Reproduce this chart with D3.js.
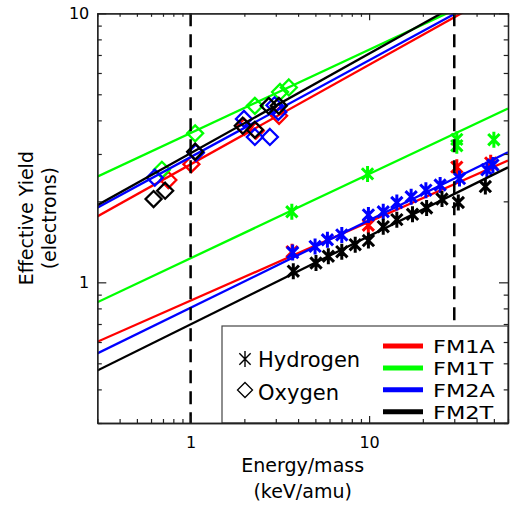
<!DOCTYPE html>
<html>
<head>
<meta charset="utf-8">
<script src="https://cdn.jsdelivr.net/npm/d3@7"></script>
<style>
  html, body { margin: 0; padding: 0; background: #fff; }
  svg { display: block; font-family: "DejaVu Sans", sans-serif; }
</style>
</head>
<body>
<svg id="chart"></svg>
<script>
// sensors (legend order)
const sensors = ["FM1A", "FM1T", "FM2A", "FM2T"];

// oxygen measurements [energy/mass keV/amu, effective yield]
const oxygenFM1A = [[0.75, 2.40], [1.01, 2.75], [2.0, 3.78], [2.32, 3.66], [3.13, 4.16]];
const oxygenFM1T = [[0.69, 2.62], [1.06, 3.58], [2.29, 4.53], [3.17, 5.10], [3.55, 5.30]];
const oxygenFM2A = [[0.63, 2.45], [1.07, 3.03], [1.99, 4.05], [2.29, 3.47], [2.78, 3.47], [2.95, 4.55], [3.1, 4.3]];
const oxygenFM2T = [[0.62, 2.04], [0.72, 2.19], [1.06, 3.06], [1.96, 3.82], [2.29, 3.69], [2.74, 4.53], [3.12, 4.53]];

// hydrogen measurements
const hydrogenFM1A = [[3.7, 1.30], [9.9, 1.63], [31, 2.68], [48, 2.78]];
const hydrogenFM1T = [[3.69, 1.83], [9.8, 2.53], [31, 3.22], [31, 3.40], [50, 3.39]];
const hydrogenFM2A = [[3.73, 1.29], [4.98, 1.36], [5.84, 1.44], [7.03, 1.50], [9.91, 1.78], [12.0, 1.83],
  [14.3, 1.98], [17.2, 2.08], [20.8, 2.20], [25.0, 2.30], [32.1, 2.43], [45.7, 2.62], [49.4, 2.73]];
const hydrogenFM2T = [[3.76, 1.10], [5.04, 1.18], [5.91, 1.25], [7.03, 1.30], [8.36, 1.38], [9.91, 1.43],
  [12.0, 1.61], [14.3, 1.71], [17.5, 1.79], [21.0, 1.89], [25.6, 2.04], [31.6, 1.98], [44.8, 2.27]];

// fitted power-law lines, yield read at the two ends of the energy range
const fitEnergies = [0.3, 60];
const oxygenFitFM1A = [1.758, 12.49];
const oxygenFitFM1T = [2.47, 12.76];
const oxygenFitFM2A = [1.894, 12.75];
const oxygenFitFM2T = [1.934, 13.74];
const hydrogenFitFM1A = [0.601, 2.837];
const hydrogenFitFM1T = [0.843, 4.43];
const hydrogenFitFM2A = [0.544, 3.045];
const hydrogenFitFM2T = [0.470, 2.675];

// energy thresholds marked with dashed lines
const markerEnergies = [1, 30];

// axis ticks
const xMajorTicks = [1, 10];
const xMinorTicks = [0.3, 0.4, 0.5, 0.6, 0.7, 0.8, 0.9, 2, 3, 4, 5, 6, 7, 8, 9, 20, 30, 40, 50, 60];
const yMajorTicks = [1, 10];
const yMinorTicks = [0.3, 0.4, 0.5, 0.6, 0.7, 0.8, 0.9, 2, 3, 4, 5, 6, 7, 8, 9];

const sensorColors = ["#ff0000", "#00ff00", "#0000ff", "#000000"];

const oxygenData = [oxygenFM1A, oxygenFM1T, oxygenFM2A, oxygenFM2T];
const hydrogenData = [hydrogenFM1A, hydrogenFM1T, hydrogenFM2A, hydrogenFM2T];
const oxygenFits = [oxygenFitFM1A, oxygenFitFM1T, oxygenFitFM2A, oxygenFitFM2T];
const hydrogenFits = [hydrogenFitFM1A, hydrogenFitFM1T, hydrogenFitFM2A, hydrogenFitFM2T];

const W = 511, H = 512;
const plot = { left: 97.3, right: 508, top: 13.3, bottom: 423 };

const svg = d3.select("#chart").attr("width", W).attr("height", H);

const x = d3.scaleLog().domain([0.3, 60]).range([plot.left, plot.right]);
const y = d3.scaleLog().domain([0.3, 10]).range([plot.bottom, plot.top]);

svg.append("defs").append("clipPath").attr("id", "plot-clip")
  .append("rect")
  .attr("x", plot.left).attr("y", plot.top)
  .attr("width", plot.right - plot.left).attr("height", plot.bottom - plot.top);

function asteriskPath(r) {
  const c = r * Math.cos(Math.PI / 4), s = r * Math.sin(Math.PI / 4);
  return `M0,${-r}L0,${r}M${-c},${-s}L${c},${s}M${-c},${s}L${c},${-s}`;
}
function diamondPath(r) {
  return `M0,${-r}L${r},0L0,${r}L${-r},0Z`;
}

const line = d3.line().x(d => x(d[0])).y(d => y(d[1]));
const data = svg.append("g").attr("clip-path", "url(#plot-clip)");

sensors.forEach((name, i) => {
  const color = sensorColors[i];
  [oxygenFits[i], hydrogenFits[i]].forEach(fit => {
    data.append("path")
      .datum(fitEnergies.map((e, k) => [e, fit[k]]))
      .attr("d", line)
      .attr("fill", "none")
      .attr("stroke", color)
      .attr("stroke-width", 2.3);
  });

  data.selectAll(null)
    .data(oxygenData[i])
    .join("path")
    .attr("transform", d => `translate(${x(d[0])},${y(d[1])})`)
    .attr("d", diamondPath(8))
    .attr("fill", "none")
    .attr("stroke", color)
    .attr("stroke-width", 2.3);

  data.selectAll(null)
    .data(hydrogenData[i])
    .join("path")
    .attr("transform", d => `translate(${x(d[0])},${y(d[1])})`)
    .attr("d", asteriskPath(8))
    .attr("fill", "none")
    .attr("stroke", color)
    .attr("stroke-width", 3);
});

// dashed energy markers
svg.selectAll("line.marker")
  .data(markerEnergies)
  .join("line")
  .attr("class", "marker")
  .attr("x1", d => x(d)).attr("x2", d => x(d))
  .attr("y1", plot.top).attr("y2", plot.bottom)
  .attr("stroke", "#000")
  .attr("stroke-width", 2.5)
  .attr("stroke-dasharray", "13,8");

// legend
const legend = svg.append("g");
legend.append("rect")
  .attr("x", 222).attr("y", 326)
  .attr("width", plot.right - 222).attr("height", plot.bottom - 326)
  .attr("fill", "#fff")
  .attr("stroke", "#444")
  .attr("stroke-width", 1.2);

legend.append("path")
  .attr("transform", "translate(245,359)")
  .attr("d", asteriskPath(8))
  .attr("fill", "none").attr("stroke", "#000").attr("stroke-width", 1.4);
legend.append("path")
  .attr("transform", "translate(245,390)")
  .attr("d", diamondPath(7.5))
  .attr("fill", "none").attr("stroke", "#000").attr("stroke-width", 1.3);
legend.append("text").attr("x", 258).attr("y", 367).attr("font-size", 21).text("Hydrogen");
legend.append("text").attr("x", 258).attr("y", 400).attr("font-size", 21).text("Oxygen");

sensors.forEach((name, i) => {
  const ly = 346 + i * 21.9;
  legend.append("line")
    .attr("x1", 383).attr("x2", 423)
    .attr("y1", ly).attr("y2", ly)
    .attr("stroke", sensorColors[i])
    .attr("stroke-width", 5);
  legend.append("text")
    .attr("transform", `translate(433,${ly + 7}) scale(1.22,1)`)
    .attr("font-size", 18.4)
    .text(name);
});

// axes (ticks point inward, IDL style)
function styleAxis(g) {
  g.selectAll("path.domain").attr("stroke", "#222").attr("stroke-width", 1.3);
  g.selectAll(".tick line").attr("stroke", "#222").attr("stroke-width", 1.2);
  g.selectAll(".tick text").attr("font-size", 16).attr("fill", "#000")
    .attr("font-family", "DejaVu Sans, sans-serif");
}
const fmt = d3.format("~g");

svg.append("g").attr("transform", `translate(0,${plot.bottom})`)
  .call(d3.axisBottom(x).tickValues(xMinorTicks).tickSize(-4).tickSizeOuter(0).tickFormat(""))
  .call(styleAxis);
svg.append("g").attr("transform", `translate(0,${plot.bottom})`)
  .call(d3.axisBottom(x).tickValues(xMajorTicks).tickSize(-7).tickSizeOuter(0).tickPadding(10).tickFormat(fmt))
  .call(styleAxis)
  .call(g => g.selectAll(".tick text").attr("dy", "0.95em"));

svg.append("g").attr("transform", `translate(0,${plot.top})`)
  .call(d3.axisTop(x).tickValues(xMinorTicks).tickSize(-3.5).tickSizeOuter(0).tickFormat(""))
  .call(styleAxis);
svg.append("g").attr("transform", `translate(0,${plot.top})`)
  .call(d3.axisTop(x).tickValues(xMajorTicks).tickSize(-7).tickSizeOuter(0).tickFormat(""))
  .call(styleAxis);

svg.append("g").attr("transform", `translate(${plot.left},0)`)
  .call(d3.axisLeft(y).tickValues(yMinorTicks).tickSize(-4.5).tickSizeOuter(0).tickFormat(""))
  .call(styleAxis);
svg.append("g").attr("transform", `translate(${plot.left},0)`)
  .call(d3.axisLeft(y).tickValues(yMajorTicks).tickSize(-9).tickSizeOuter(0).tickPadding(8).tickFormat(fmt))
  .call(styleAxis);

svg.append("g").attr("transform", `translate(${plot.right},0)`)
  .call(d3.axisRight(y).tickValues(yMinorTicks).tickSize(-4.3).tickSizeOuter(0).tickFormat(""))
  .call(styleAxis);
svg.append("g").attr("transform", `translate(${plot.right},0)`)
  .call(d3.axisRight(y).tickValues(yMajorTicks).tickSize(-9).tickSizeOuter(0).tickFormat(""))
  .call(styleAxis);

// axis titles
const cx = (plot.left + plot.right) / 2;
const cy = (plot.top + plot.bottom) / 2;
svg.append("text").attr("x", cx).attr("y", 472).attr("text-anchor", "middle")
  .attr("font-size", 19).text("Energy/mass");
svg.append("text").attr("x", cx).attr("y", 498).attr("text-anchor", "middle")
  .attr("font-size", 19).text("(keV/amu)");
svg.append("text").attr("transform", `translate(33,${cy}) rotate(-90)`).attr("text-anchor", "middle")
  .attr("font-size", 19).text("Effective Yield");
svg.append("text").attr("transform", `translate(56,${cy}) rotate(-90)`).attr("text-anchor", "middle")
  .attr("font-size", 19).text("(electrons)");
</script>
</body>
</html>
